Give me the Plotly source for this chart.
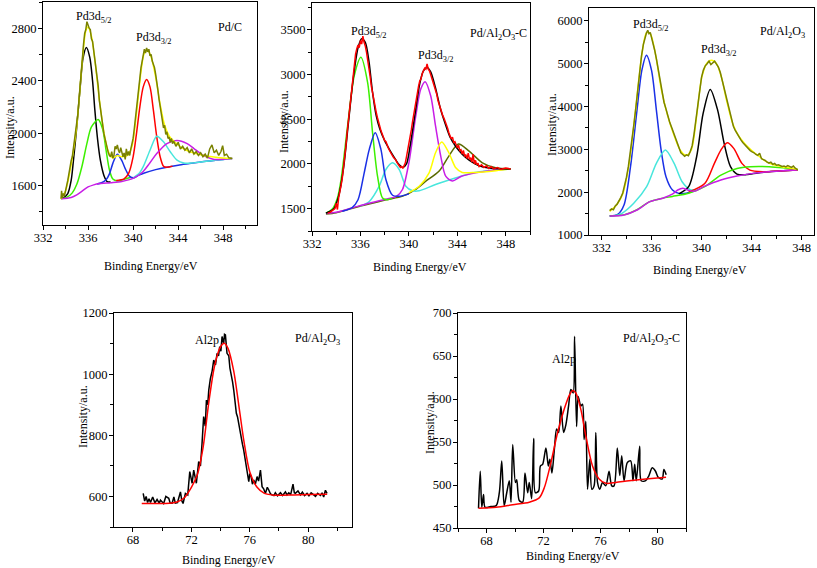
import plotly.graph_objects as go

W, H = 817, 568
FONT = "Liberation Serif, Times New Roman, Times, serif"

OLIVE = "#7a8200"
YELLOW = "#ffff00"
GREEN = "#3cf000"
CYAN = "#48e6dc"
BLUE = "#1a30e6"
RED = "#ff0000"
MAGENTA = "#c81ee6"
BLACK = "#000000"
DKOLIVE = "#5a6a00"

# ---------------- Panel 1: Pd/C (Pd3d) ----------------
pdc_raw = [(333.60,1500),(333.65,1560),(333.70,1505),(333.80,1540),(333.90,1520),(334.00,1580),
 (334.10,1600),(334.20,1640),(334.30,1700),(334.40,1740),(334.50,1790),(334.60,1820),(334.70,1880),
 (334.80,1940),(334.90,2000),(335.00,2070),(335.10,2150),(335.20,2260),(335.30,2380),(335.40,2490),
 (335.50,2590),(335.60,2680),(335.70,2760),(335.80,2790),(335.90,2850),(336.00,2820),(336.10,2800),
 (336.20,2790),(336.30,2720),(336.40,2700),(336.50,2640),(336.60,2580),(336.70,2500),(336.80,2420),
 (336.90,2360),(337.00,2250),(337.10,2190),(337.20,2100),(337.30,2060),(337.40,2000),(337.50,1960),
 (337.60,1920),(337.70,1880),(337.80,1850),(337.90,1830),(338.00,1820),(338.10,1860),(338.20,1810),
 (338.30,1830),(338.40,1900),(338.50,1880),(338.60,1910),(338.70,1870),(338.80,1850),(338.90,1890),
 (339.00,1840),(339.10,1820),(339.20,1850),(339.30,1800),(339.40,1880),(339.50,1830),(339.60,1860),
 (339.70,1830),(339.80,1880),(339.90,1920),(340.00,1960),(340.10,2030),(340.20,2100),(340.30,2180),
 (340.40,2260),(340.50,2340),(340.60,2420),(340.70,2500),(340.80,2560),(340.90,2600),(341.00,2640),
 (341.10,2610),(341.20,2650),(341.30,2620),(341.40,2640),(341.50,2590),(341.60,2600),(341.70,2550),
 (341.80,2530),(341.90,2500),(342.00,2450),(342.10,2400),(342.20,2330),(342.30,2260),(342.40,2200),
 (342.50,2150),(342.60,2100),(342.70,2040),(342.80,2060),(342.90,1990),(343.00,2010),(343.10,1960),
 (343.20,1970),(343.30,1930),(343.40,1960),(343.50,1920),(343.60,1940),(343.80,1900),(344.00,1930),
 (344.20,1880),(344.40,1900),(344.60,1870),(344.80,1890),(345.00,1850),(345.20,1880),(345.40,1840),
 (345.60,1860),(345.80,1830),(346.00,1850),(346.20,1820),(346.40,1840),(346.60,1810),(346.80,1880),
 (347.00,1910),(347.20,1850),(347.40,1870),(347.60,1830),(347.80,1860),(347.95,1905),(348.10,1830),
 (348.30,1840),(348.50,1812),(348.80,1807)]
pdc_env = [(333.6,1500),(334.0,1560),(334.5,1760),(335.0,2060),(335.5,2560),(335.8,2780),(336.0,2810),
 (336.3,2740),(336.6,2560),(337.0,2260),(337.4,2010),(337.8,1860),(338.2,1810),(338.6,1830),(339.0,1820),
 (339.5,1830),(339.9,1900),(340.3,2150),(340.7,2470),(341.0,2610),(341.3,2630),(341.6,2580),(342.0,2430),
 (342.4,2220),(342.8,2060),(343.2,1980),(343.6,1940),(344.0,1910),(344.5,1880),(345.0,1860),(346.0,1835),
 (347.0,1820),(348.0,1810),(348.8,1807)]
pdc_black = [(333.8,1505),(334.2,1540),(334.5,1640),(334.7,1790),(335.0,2050),(335.3,2350),(335.55,2570),
 (335.85,2653),(336.15,2580),(336.4,2400),(336.6,2180),(336.85,1950),(337.1,1790),(337.4,1680),(337.7,1630),
 (338.0,1628)]
pdc_green = [(333.6,1500),(334.1,1510),(334.6,1545),(335.0,1610),(335.45,1744),(335.9,1922),(336.3,2048),
 (336.9,2104),(337.3,2030),(337.6,1870),(337.9,1720),(338.2,1650),(338.6,1636),(339.2,1648),(339.8,1664)]
pdc_blue = [(336.8,1612),(337.2,1622),(337.6,1645),(337.9,1690),(338.2,1770),(338.6,1840),(339.0,1790),
 (339.3,1730),(339.7,1670),(340.1,1660),(340.5,1680),(341.0,1697),(342.0,1722),(343.0,1741),(344.0,1756),
 (345.0,1768),(346.0,1780),(347.0,1790),(348.0,1800),(348.8,1807)]
pdc_red = [(338.5,1640),(339.2,1652),(339.6,1693),(340.0,1820),(340.3,1997),(340.6,2201),(340.9,2353),
 (341.2,2409),(341.5,2353),(341.8,2175),(342.1,1972),(342.4,1820),(342.7,1748),(343.0,1740),(343.5,1749)]
pdc_cyan = [(340.0,1660),(340.5,1690),(340.9,1745),(341.5,1870),(342.1,1977),(342.7,1934),(343.3,1858),
 (343.9,1794),(344.5,1772),(345.2,1772),(346.0,1781),(347.0,1790),(348.0,1800),(348.8,1807)]
pdc_magenta = [(333.6,1500),(334.5,1510),(335.0,1530),(335.5,1560),(336.0,1590),(336.5,1606),(337.0,1616),
 (338.0,1623),(339.0,1632),(340.0,1655),(340.8,1700),(341.5,1775),(342.1,1845),(343.0,1921),(343.9,1944),
 (344.8,1920),(345.4,1883),(346.0,1845),(346.5,1820),(347.2,1800),(348.0,1802),(348.8,1807)]

# ---------------- Panel 2: Pd/Al2O3-C (Pd3d) ----------------
pac_raw = [(333.3,1450),(333.5,1460),(333.7,1480),(333.9,1500),(334.0,1560),(334.1,1490),(334.2,1620),
 (334.3,1680),(334.4,1760),(334.5,1840),(334.6,1940),(334.7,2060),(334.8,2200),(334.9,2350),(335.0,2480),
 (335.1,2600),(335.2,2760),(335.3,2880),(335.4,2990),(335.5,3120),(335.6,3230),(335.7,3290),(335.8,3330),
 (335.9,3300),(336.0,3380),(336.1,3340),(336.2,3430),(336.3,3360),(336.4,3320),(336.5,3250),(336.6,3170),
 (336.7,3080),(336.8,2980),(336.9,2870),(337.0,2790),(337.1,2700),(337.2,2640),(337.3,2580),(337.4,2520),
 (337.5,2450),(337.6,2420),(337.7,2370),(337.8,2330),(337.9,2310),(338.0,2260),(338.1,2250),(338.2,2200),
 (338.3,2180),(338.4,2150),(338.5,2120),(338.6,2110),(338.7,2080),(338.8,2060),(338.9,2050),(339.0,2020),
 (339.1,1990),(339.2,1980),(339.3,1960),(339.4,1970),(339.5,1950),(339.6,1990),(339.7,2010),(339.8,2080),
 (339.9,2150),(340.0,2210),(340.1,2300),(340.2,2380),(340.3,2470),(340.4,2560),(340.5,2640),(340.6,2720),
 (340.7,2800),(340.8,2870),(340.9,2930),(341.0,2950),(341.1,3010),(341.2,3040),(341.3,3070),(341.4,3060),
 (341.5,3120),(341.6,3060),(341.7,3040),(341.8,3000),(341.9,2960),(342.0,2920),(342.1,2880),(342.2,2830),
 (342.3,2780),(342.4,2710),(342.5,2660),(342.6,2620),(342.7,2580),(342.8,2540),(342.9,2510),(343.0,2480),
 (343.1,2440),(343.2,2400),(343.3,2350),(343.4,2310),(343.5,2280),(343.6,2300),(343.7,2240),(343.8,2250),
 (343.9,2200),(344.0,2180),(344.1,2210),(344.2,2150),(344.3,2160),(344.4,2110),(344.5,2150),(344.6,2090),
 (344.7,2100),(344.8,2060),(344.9,2120),(345.0,2050),(345.1,2070),(345.2,2020),(345.3,2110),(345.4,2000),
 (345.5,2040),(345.6,1990),(345.7,2010),(345.8,1970),(346.0,1990),(346.2,1960),(346.4,1980),(346.6,1950),
 (346.8,1970),(347.0,1945),(347.3,1960),(347.6,1940),(348.0,1955),(348.4,1944)]
pac_env = [(333.15,1450),(333.8,1500),(334.2,1640),(334.6,1950),(335.0,2450),(335.4,2950),(335.8,3300),
 (336.1,3400),(336.4,3360),(336.7,3150),(337.0,2800),(337.3,2540),(337.6,2390),(338.0,2260),(338.4,2160),
 (338.8,2070),(339.2,1990),(339.5,1960),(339.8,2000),(340.1,2200),(340.5,2550),(340.9,2900),(341.2,3040),
 (341.5,3080),(341.8,3030),(342.2,2850),(342.6,2620),(343.0,2450),(343.4,2300),(343.9,2190),(344.4,2110),
 (345.0,2040),(345.8,1980),(346.6,1955),(347.5,1945),(348.4,1944)]
pac_green = [(333.15,1450),(333.7,1500),(334.1,1620),(334.4,1826),(334.94,2425),(335.49,2987),(336.04,3193),
 (336.59,2912),(337.0,2350),(337.41,1863),(337.82,1620),(338.2,1600),(338.6,1615)]
pac_blue = [(334.5,1470),(335.3,1510),(335.8,1600),(336.31,1901),(336.73,2163),(337.22,2350),(337.69,2163),
 (338.1,1826),(338.65,1650),(339.3,1640),(340.0,1665)]
pac_cyan = [(336.0,1530),(336.73,1580),(337.55,1751),(338.1,1938),(338.65,2013),(339.2,1938),(339.75,1751),
 (340.3,1700),(340.85,1700),(342.2,1770),(343.9,1845),(345.0,1890),(346.0,1915),(347.0,1930),(348.4,1944)]
pac_magenta = [(333.15,1446),(334.0,1460),(335.35,1510),(336.7,1560),(338.1,1605),(339.0,1640),(339.47,1714),
 (340.0,2013),(340.57,2538),(340.98,2837),(341.34,2920),(341.8,2762),(342.2,2425),(342.63,2088),(343.04,1863),
 (343.6,1810),(344.3,1860),(345.5,1900),(347.0,1930),(348.4,1944)]
pac_yellow = [(340.0,1680),(340.85,1751),(341.67,1901),(342.2,2125),(342.71,2245),(343.3,2125),(343.87,1957),
 (344.4,1905),(345.5,1905),(347.2,1925),(348.4,1944)]
pac_olive = [(333.15,1440),(334.0,1455),(335.35,1505),(336.7,1552),(338.1,1598),(339.5,1640),(340.5,1710),
 (341.4,1807),(342.5,1920),(343.3,2088),(344.09,2223),(344.97,2144),(346.07,2013),(347.16,1957),(348.4,1946)]

# ---------------- Panel 3: Pd/Al2O3 (Pd3d) ----------------
pa_raw = [(332.65,1570),(332.8,1610),(332.95,1590),(333.1,1680),(333.25,1720),(333.4,1790),(333.55,1880),
 (333.7,1980),(333.85,2150),(334.0,2350),(334.15,2600),(334.3,2900),(334.45,3220),(334.6,3600),(334.75,3980),
 (334.9,4400),(335.05,4800),(335.2,5180),(335.35,5450),(335.5,5650),(335.6,5720),(335.7,5780),(335.8,5700),
 (335.9,5730),(336.0,5620),(336.1,5550),(336.25,5320),(336.4,5100),(336.55,4830),(336.7,4580),(336.85,4320),
 (337.0,4100),(337.15,3950),(337.3,3760),(337.45,3640),(337.6,3520),(337.75,3400),(337.9,3270),(338.05,3140),
 (338.2,3020),(338.35,2920),(338.5,2880),(338.65,2840),(338.8,2870),(338.95,2850),(339.1,2950),(339.25,3080),
 (339.4,3350),(339.55,3700),(339.7,4100),(339.85,4450),(340.0,4680),(340.15,4850),(340.3,4950),(340.45,5000),
 (340.6,5060),(340.75,4980),(340.9,5010),(341.05,5060),(341.2,4990),(341.35,4920),(341.5,4800),(341.65,4620),
 (341.8,4450),(341.95,4250),(342.1,4050),(342.25,3850),(342.4,3680),(342.55,3540),(342.7,3440),(342.85,3360),
 (343.0,3290),(343.15,3220),(343.3,3160),(343.45,3110),(343.6,3060),(343.75,3020),(343.9,2970),(344.05,2940),
 (344.2,2920),(344.35,2880),(344.5,2860),(344.65,2910),(344.8,2780),(344.95,2760),(345.1,2740),(345.25,2700),
 (345.4,2680),(345.55,2700),(345.7,2650),(345.85,2670),(346.0,2630),(346.15,2640),(346.3,2620),(346.45,2600),
 (346.6,2610),(346.75,2590),(346.9,2620),(347.05,2600),(347.2,2580),(347.35,2610),(347.5,2560),(347.7,2520)]
pa_env = [(332.65,1550),(333.2,1700),(333.7,1960),(334.2,2650),(334.7,3850),(335.2,5150),(335.6,5720),
 (335.9,5700),(336.3,5250),(336.8,4380),(337.3,3780),(337.8,3330),(338.3,2980),(338.8,2860),(339.2,3000),
 (339.6,3750),(340.0,4650),(340.4,5000),(340.8,5080),(341.2,5000),(341.6,4680),(342.0,4150),(342.5,3600),
 (343.0,3300),(343.5,3120),(344.0,2980),(344.5,2860),(345.0,2750),(345.5,2670),(346.0,2620),(346.5,2590),
 (347.0,2570),(347.7,2530)]
pa_blue = [(332.65,1443),(333.3,1480),(333.8,1700),(334.32,2594),(334.84,3916),(335.23,4849),(335.6,5199),
 (336.0,4849),(336.39,3916),(336.77,2983),(337.16,2361),(337.68,2050),(338.19,1972),(338.8,1975),(339.3,2020)]
pa_cyan = [(332.9,1445),(333.6,1500),(334.58,1739),(335.61,2128),(336.39,2672),(337.11,2983),(337.81,2672),
 (338.45,2244),(339.1,2060),(339.5,2050)]
pa_black = [(338.19,1960),(338.97,2128),(339.61,2827),(340.13,3838),(340.7,4398),(341.29,3916),(341.81,3138),
 (342.32,2594),(342.84,2423),(343.61,2410),(344.5,2450),(345.42,2478),(347.7,2516)]
pa_red = [(338.97,2000),(340.26,2200),(341.03,2672),(341.55,2983),(342.06,3154),(342.58,3022),(343.23,2672),
 (343.87,2516),(344.9,2478),(345.8,2490),(347.7,2516)]
pa_green = [(332.65,1450),(333.8,1470),(334.84,1590),(335.87,1780),(336.9,1860),(337.68,1900),(338.97,1975),
 (340.26,2128),(341.55,2400),(342.84,2555),(343.9,2594),(345.42,2594),(346.5,2570),(347.7,2530)]
pa_magenta = [(332.65,1443),(333.8,1467),(334.84,1583),(335.87,1778),(336.9,1860),(337.7,1960),(338.1,2050),
 (338.5,2089),(338.9,2050),(339.4,2020),(340.26,2140),(341.55,2283),(342.84,2376),(344.13,2439),(345.42,2478),
 (347.7,2516)]

# ---------------- Panel 4: Pd/Al2O3 (Al2p) ----------------
al_raw = [(68.7,610),(68.8,585),(68.9,600),(69.0,580),(69.1,592),(69.2,580),(69.35,598),(69.5,579),
 (69.65,590),(69.8,578),(69.88,588),(70.1,577),(70.25,600),(70.45,594),(70.55,578),(70.68,578),(70.8,598),
 (70.9,578),(71.05,580),(71.25,615),(71.35,585),(71.43,577),(71.59,610),(71.75,605),(71.89,681),(72.05,643),
 (72.16,686),(72.34,643),(72.5,714),(72.62,700),(72.73,774),(72.84,861),(72.95,830),(73.03,915),(73.12,900),
 (73.19,948),(73.3,985),(73.42,1010),(73.53,1046),(73.65,1030),(73.76,1068),(73.86,1060),(73.94,1090),
 (74.02,1075),(74.1,1123),(74.21,1100),(74.27,1130),(74.33,1128),(74.44,1068),(74.56,1060),(74.64,1020),
 (74.72,992),(74.82,975),(74.9,948),(75.0,900),(75.08,872),(75.16,860),(75.24,839),(75.32,810),(75.4,785),
 (75.5,770),(75.58,752),(75.68,720),(75.77,686),(75.85,670),(75.93,648),(76.0,675),(76.09,665),(76.18,640),
 (76.27,654),(76.38,640),(76.5,665),(76.6,650),(76.73,686),(76.84,632),(76.95,625),(77.07,610),(77.2,630),
 (77.3,621),(77.42,608),(77.53,605),(77.65,603),(77.75,612),(77.9,602),(78.1,612),(78.25,603),(78.44,615),
 (78.55,605),(78.67,612),(78.8,606),(78.96,640),(79.05,612),(79.12,610),(79.3,618),(79.47,605),(79.6,614),
 (79.75,603),(79.92,610),(80.05,602),(80.2,612),(80.38,605),(80.5,600),(80.65,610),(80.84,603),(80.95,612),
 (81.06,598),(81.18,620),(81.29,610)]
al_fit = [(68.6,577),(69.5,577),(70.5,578),(71.0,582),(71.5,595),(72.0,630),(72.4,670),(72.8,760),
 (73.2,910),(73.6,1030),(74.0,1090),(74.25,1101),(74.5,1085),(74.9,1010),(75.3,880),(75.6,780),(76.0,680),
 (76.5,630),(77.0,610),(77.5,605),(78.0,604),(79.0,605),(80.0,606),(81.3,607)]

# ---------------- Panel 5: Pd/Al2O3-C (Al2p) ----------------
alc_raw = [(67.44,473),(67.56,516),(67.67,474),(67.79,489),(67.9,474),(68.3,475),(68.68,476),(68.9,491),
 (69.07,528),(69.24,476),(69.42,491),(69.6,505),(69.72,480),(69.84,547),(70.03,503),(70.12,506),(70.3,482),
 (70.54,480),(70.7,514),(70.89,491),(71.0,503),(71.17,484),(71.31,554),(71.43,491),(71.66,493),(71.78,522),
 (71.94,524),(72.17,543),(72.34,522),(72.45,530),(72.59,514),(72.76,541),(72.92,565),(73.06,561),(73.22,592),
 (73.41,561),(73.57,570),(73.76,592),(73.92,611),(74.08,607),(74.18,673),(74.32,568),(74.43,603),(74.62,592),
 (74.74,594),(74.85,553),(74.97,574),(75.09,495),(75.25,530),(75.39,495),(75.55,499),(75.67,561),(75.79,503),
 (75.95,495),(76.14,503),(76.37,499),(76.6,516),(76.79,499),(76.95,499),(77.18,543),(77.35,511),(77.49,534),
 (77.65,505),(77.88,526),(78.12,528),(78.28,505),(78.4,524),(78.51,505),(78.75,545),(78.86,505),(79.17,505),
 (79.4,511),(79.63,520),(79.86,516),(80.05,509),(80.33,507),(80.45,518),(80.61,512)]
alc_fit = [(67.44,473),(68.68,474),(69.84,477),(71.0,480),(71.7,485),(72.06,497),(72.52,526),(72.99,561),
 (73.45,588),(73.8,604),(74.04,610),(74.27,607),(74.62,588),(74.97,557),(75.44,522),(75.9,507),(76.37,502),
 (77.07,503),(78.0,505),(79.17,507),(80.6,509)]

# ---------------- Axes definitions (pixel boxes) ----------------
panels = [
    dict(box=(43, 2, 257, 225), xr=[332, 351], yr=[1300, 3000], x0=332, dx=4, y0=1600, dy=400),
    dict(box=(312, 3, 530, 231), xr=[332, 350], yr=[1250, 3800], x0=332, dx=4, y0=1500, dy=500),
    dict(box=(589, 8, 814, 235), xr=[331, 349], yr=[1000, 6300], x0=332, dx=4, y0=1000, dy=1000),
    dict(box=(114, 313, 352, 527), xr=[66.7, 83], yr=[500, 1200], x0=68, dx=4, y0=600, dy=200),
    dict(box=(458, 313, 686, 528), xr=[66, 82], yr=[450, 700], x0=68, dx=4, y0=450, dy=50),
]

traces = [
    (1, pdc_black, BLACK, "spline"), (1, pdc_green, GREEN, "spline"), (1, pdc_blue, BLUE, "spline"),
    (1, pdc_red, RED, "spline"), (1, pdc_cyan, CYAN, "spline"), (1, pdc_magenta, MAGENTA, "spline"),
    (1, pdc_env, YELLOW, "spline"), (1, pdc_raw, OLIVE, "linear"),
    (2, pac_olive, DKOLIVE, "spline"), (2, pac_cyan, CYAN, "spline"), (2, pac_magenta, MAGENTA, "spline"),
    (2, pac_green, GREEN, "spline"), (2, pac_blue, BLUE, "spline"), (2, pac_yellow, YELLOW, "spline"),
    (2, pac_env, BLACK, "spline"), (2, pac_raw, RED, "linear"),
    (3, pa_blue, BLUE, "spline"), (3, pa_cyan, CYAN, "spline"), (3, pa_black, BLACK, "spline"),
    (3, pa_red, RED, "spline"), (3, pa_green, GREEN, "spline"), (3, pa_magenta, MAGENTA, "spline"),
    (3, pa_env, YELLOW, "spline"), (3, pa_raw, OLIVE, "linear"),
    (4, al_raw, BLACK, "linear"), (4, al_fit, RED, "spline"),
    (5, alc_raw, BLACK, "spline"), (5, alc_fit, RED, "spline"),
]

fig = go.Figure()
for idx, pts, col, shape in traces:
    xs = [p[0] for p in pts]
    ys = [p[1] for p in pts]
    sfx = "" if idx == 1 else str(idx)
    fig.add_trace(go.Scatter(x=xs, y=ys, mode="lines", xaxis="x" + sfx, yaxis="y" + sfx,
                             line=dict(color=col, width=1.5, shape=shape, smoothing=0.8),
                             showlegend=False, hoverinfo="skip"))

axfont = dict(family=FONT, size=12.5, color="black")
layout = dict(width=W, height=H, margin=dict(l=0, r=0, t=0, b=0, autoexpand=False),
              template="none", font=dict(family=FONT, size=12.5, color="black"),
              paper_bgcolor="white", plot_bgcolor="white", showlegend=False)
for i, p in enumerate(panels, start=1):
    l, t, r, b = p["box"]
    sfx = "" if i == 1 else str(i)
    common = dict(showline=True, mirror=True, linecolor="black", linewidth=1.2, showgrid=False,
                  zeroline=False, ticks="outside", ticklen=4, tickwidth=1, tickcolor="black",
                  tickfont=axfont, automargin=False)
    layout["xaxis" + sfx] = dict(common, domain=[l / W, r / W], range=p["xr"], anchor="y" + sfx,
                                 tick0=p["x0"], dtick=p["dx"], ticklabelstandoff=-3,
                                 minor=dict(ticks="outside", ticklen=3, tick0=p["x0"], dtick=p["dx"] / 2,
                                            tickcolor="black", showgrid=False))
    layout["yaxis" + sfx] = dict(common, domain=[1 - b / H, 1 - t / H], range=p["yr"], anchor="x" + sfx,
                                 tick0=p["y0"], dtick=p["dy"], ticklabelstandoff=-1,
                                 minor=dict(ticks="outside", ticklen=3, tick0=p["y0"], dtick=p["dy"] / 2,
                                            tickcolor="black", showgrid=False))
fig.update_layout(**layout)

labels = [
    ("Pd3d<sub>5/2</sub>", 93, 17, 0), ("Pd3d<sub>3/2</sub>", 153, 38, 0), ("Pd/C", 230, 27, 0),
    ("Pd3d<sub>5/2</sub>", 368, 32, 0), ("Pd3d<sub>3/2</sub>", 435, 56, 0),
    ("Pd/Al<sub>2</sub>O<sub>3</sub>-C", 498, 34, 0),
    ("Pd3d<sub>5/2</sub>", 650, 25, 0), ("Pd3d<sub>3/2</sub>", 718, 50, 0),
    ("Pd/Al<sub>2</sub>O<sub>3</sub>", 782, 32, 0),
    ("Al2p", 207, 340, 0), ("Pd/Al<sub>2</sub>O<sub>3</sub>", 317, 339, 0),
    ("Al2p", 564, 359, 0), ("Pd/Al<sub>2</sub>O<sub>3</sub>-C", 651, 339, 0),
    ("Binding Energy/eV", 151, 266, 0), ("Binding Energy/eV", 420, 267, 0),
    ("Binding Energy/eV", 700, 270, 0), ("Binding Energy/eV", 229, 560, 0),
    ("Binding Energy/eV", 573, 556, 0),
    ("Intensity/a.u.", 10, 128, -90), ("Intensity/a.u.", 284, 122, -90), ("Intensity/a.u.", 552, 125, -90),
    ("Intensity/a.u.", 83, 417, -90), ("Intensity/a.u.", 430, 423, -90),
]
for txt, px, py, ang in labels:
    fig.add_annotation(text=txt, x=px / W, y=1 - py / H, xref="paper", yref="paper",
                       xanchor="center", yanchor="middle", showarrow=False, textangle=ang,
                       font=dict(family=FONT, size=12, color="black"))

fig.write_html("out.html", config={"displayModeBar": False},
               post_script="document.body.style.margin='0px';document.body.style.overflow='hidden';")
